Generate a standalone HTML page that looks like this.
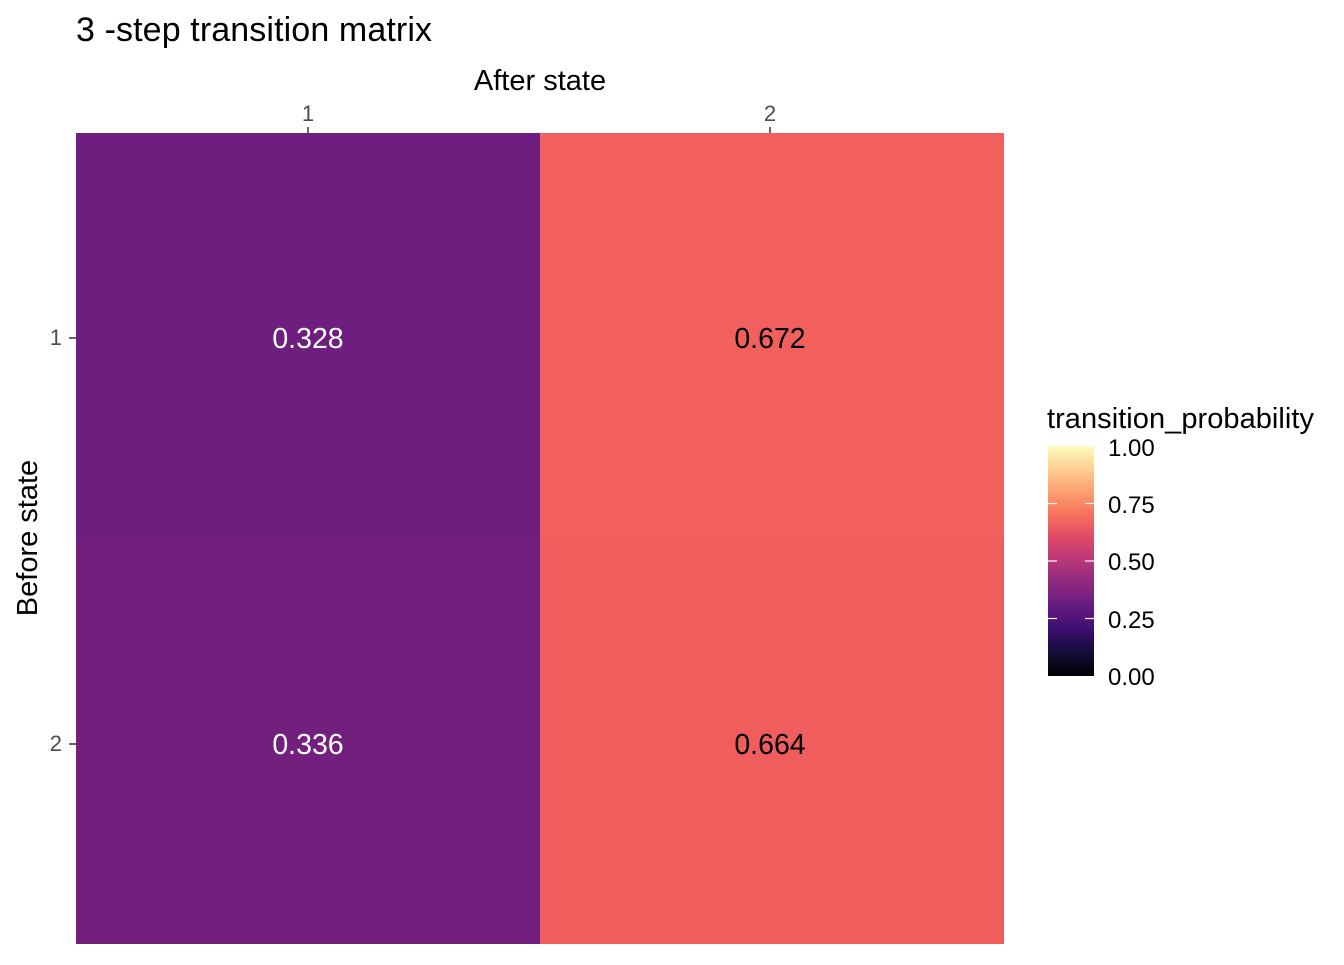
<!DOCTYPE html>
<html><head><style>body{margin:0;background:#fff}</style></head><body>
<svg width="1344" height="960" xmlns="http://www.w3.org/2000/svg" font-family="Liberation Sans, Arial, sans-serif">
<defs><linearGradient id="g" x1="0" y1="1" x2="0" y2="0">
<stop offset="0" stop-color="#000004"/><stop offset="0.1" stop-color="#140E36"/><stop offset="0.2" stop-color="#3B0F70"/><stop offset="0.3" stop-color="#641A80"/><stop offset="0.4" stop-color="#8C2981"/><stop offset="0.5" stop-color="#B73779"/><stop offset="0.6" stop-color="#DE4968"/><stop offset="0.7" stop-color="#F7705C"/><stop offset="0.8" stop-color="#FE9F6D"/><stop offset="0.9" stop-color="#FECF92"/><stop offset="1" stop-color="#FCFDBF"/>
</linearGradient></defs>
<text x="76" y="41" font-size="34" textLength="356" fill="#000">3 -step transition matrix</text>
<text x="540" y="90" font-size="29" text-anchor="middle">After state</text>
<text x="308" y="121" font-size="22" fill="#4d4d4d" text-anchor="middle">1</text>
<text x="770" y="121" font-size="22" fill="#4d4d4d" text-anchor="middle">2</text>
<line x1="308" y1="127" x2="308" y2="133" stroke="#333" stroke-width="1.5"/>
<line x1="770" y1="127" x2="770" y2="133" stroke="#333" stroke-width="1.5"/>
<rect x="76" y="133" width="464" height="406" fill="#6E1E7E"/>
<rect x="540" y="133" width="464" height="406" fill="#F1605C"/>
<rect x="76" y="539" width="464" height="405" fill="#731F7E"/>
<rect x="540" y="539" width="464" height="405" fill="#EF5D5C"/>
<text x="308" y="348" font-size="28.5" fill="#fff" text-anchor="middle">0.328</text>
<text x="770" y="348" font-size="28.5" fill="#000" text-anchor="middle">0.672</text>
<text x="308" y="754" font-size="28.5" fill="#fff" text-anchor="middle">0.336</text>
<text x="770" y="754" font-size="28.5" fill="#000" text-anchor="middle">0.664</text>
<line x1="69" y1="338" x2="76" y2="338" stroke="#333" stroke-width="1.5"/>
<line x1="69" y1="744" x2="76" y2="744" stroke="#333" stroke-width="1.5"/>
<text x="62" y="345" font-size="22" fill="#4d4d4d" text-anchor="end">1</text>
<text x="62" y="751" font-size="22" fill="#4d4d4d" text-anchor="end">2</text>
<text transform="translate(37,538) rotate(-90)" font-size="29" text-anchor="middle">Before state</text>
<text x="1047" y="428" font-size="29" textLength="267">transition_probability</text>
<rect x="1048" y="446" width="46" height="230" fill="url(#g)"/>
<g stroke="#fff" stroke-width="1.2">
<line x1="1048" y1="503.5" x2="1057" y2="503.5"/><line x1="1085" y1="503.5" x2="1094" y2="503.5"/>
<line x1="1048" y1="561" x2="1057" y2="561"/><line x1="1085" y1="561" x2="1094" y2="561"/>
<line x1="1048" y1="618.5" x2="1057" y2="618.5"/><line x1="1085" y1="618.5" x2="1094" y2="618.5"/>
</g>
<g font-size="24" fill="#000">
<text x="1108" y="456">1.00</text><text x="1108" y="513">0.75</text><text x="1108" y="570">0.50</text><text x="1108" y="628">0.25</text><text x="1108" y="685">0.00</text>
</g>
</svg>
</body></html>
